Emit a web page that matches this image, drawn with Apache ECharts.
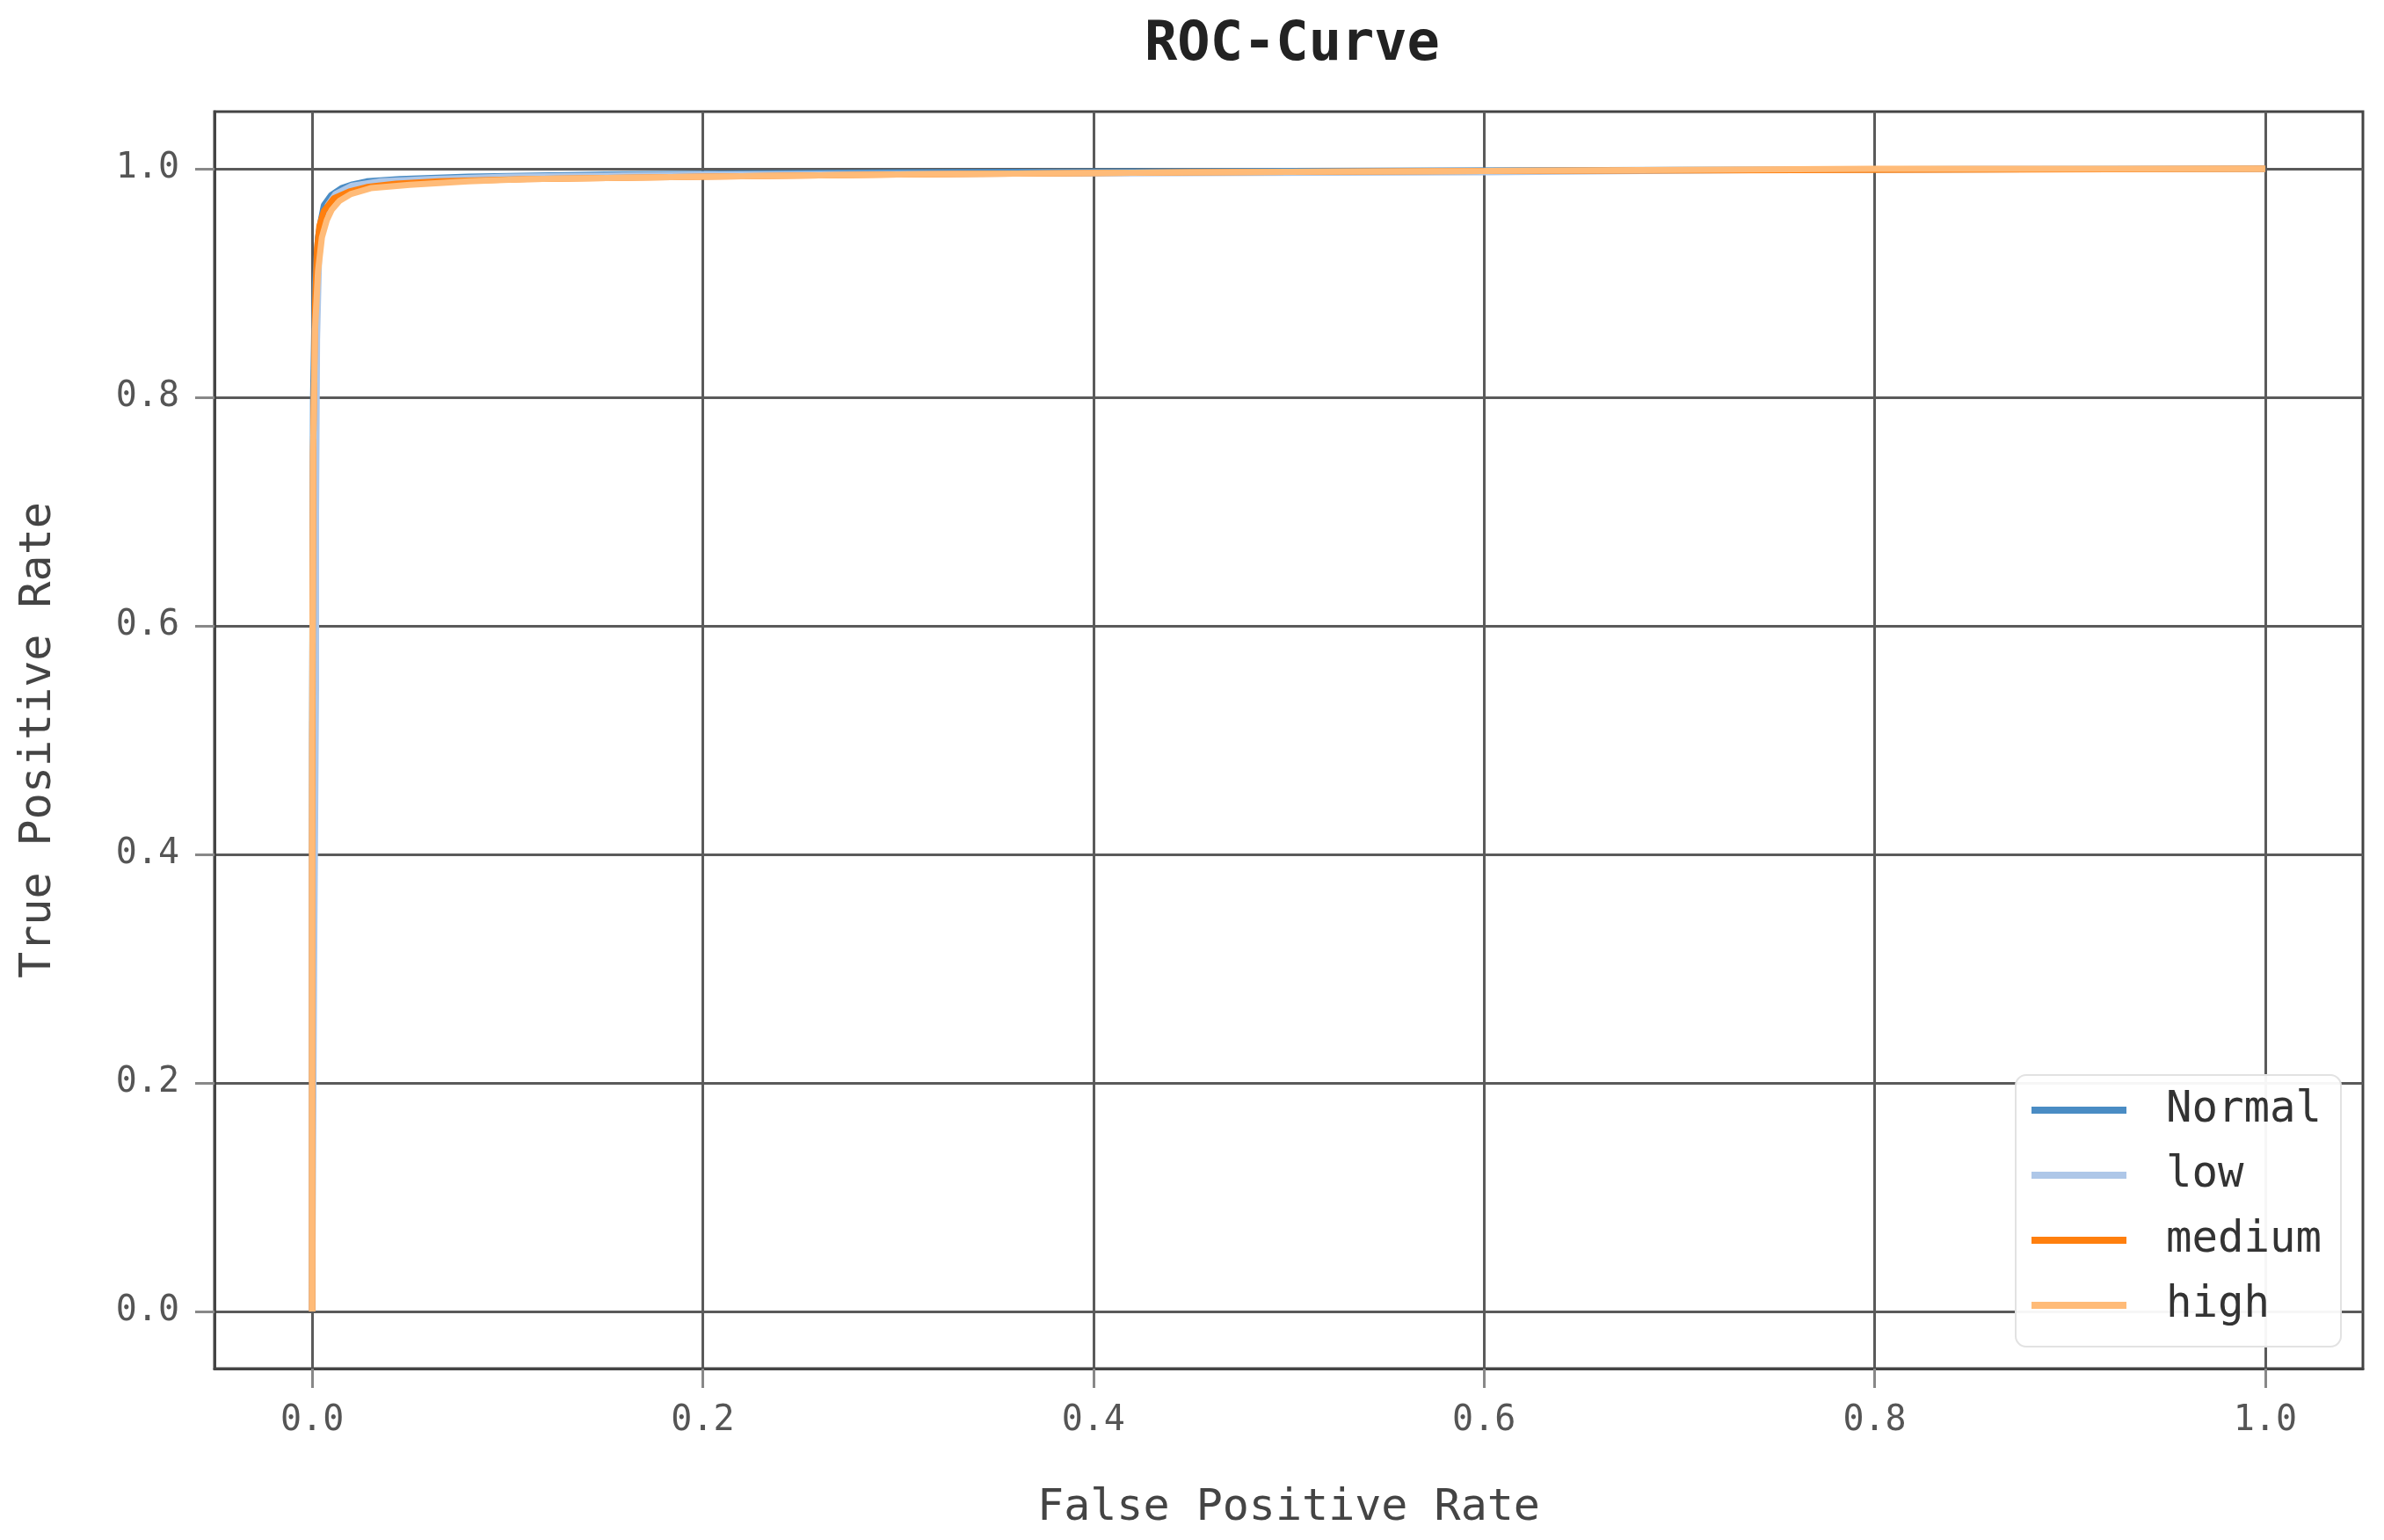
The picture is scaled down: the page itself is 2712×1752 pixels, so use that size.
<!DOCTYPE html>
<html>
<head>
<meta charset="utf-8">
<script src="https://cdn.jsdelivr.net/npm/echarts@6/dist/echarts.min.js"></script>
<style>
html,body{margin:0;padding:0;background:#fff;}
#chart{width:2712px;height:1752px;}
</style>
</head>
<body>
<div id="chart"></div>
<script>
const seriesNames = ['Normal', 'low', 'medium', 'high'];
const seriesColors = ['#4a8cc4', '#aec7e8', '#ff7f0e', '#ffbb78'];
const tickValues = [0, 0.2, 0.4, 0.6, 0.8, 1.0];

const normalFpr = [0, 0, 0.0005, 0.0015, 0.003, 0.0045, 0.006, 0.0098, 0.015, 0.02, 0.028, 0.045, 0.08, 0.15, 0.3, 0.5, 0.7, 1.0];
const normalTpr = [0, 0.5, 0.8, 0.9, 0.94, 0.955, 0.968, 0.977, 0.983, 0.986, 0.989, 0.991, 0.993, 0.995, 0.997, 0.998, 0.999, 1.0];

const lowFpr = [0, 0.001, 0.002, 0.002, 0.0025, 0.0035, 0.005, 0.008, 0.012, 0.02, 0.035, 0.06, 0.1, 0.2, 0.4, 0.6, 0.75, 0.85, 1.0];
const lowTpr = [0, 0.3, 0.55, 0.7, 0.85, 0.92, 0.95, 0.968, 0.978, 0.985, 0.989, 0.991, 0.993, 0.995, 0.996, 0.997, 0.999, 1.0, 1.0];

const mediumFpr = [0, 0, 0.0005, 0.0015, 0.0025, 0.0037, 0.006, 0.011, 0.019, 0.028, 0.043, 0.065, 0.11, 0.2, 0.3, 0.45, 0.6, 0.8, 1.0];
const mediumTpr = [0, 0.4, 0.75, 0.88, 0.93, 0.95, 0.963, 0.974, 0.98, 0.984, 0.987, 0.989, 0.991, 0.993, 0.995, 0.997, 0.998, 0.999, 1.0];

const highFpr = [0, 0, 0.0005, 0.0015, 0.003, 0.005, 0.0075, 0.01, 0.014, 0.02, 0.03, 0.05, 0.08, 0.11, 0.2, 0.3, 0.45, 0.6, 0.8, 1.0];
const highTpr = [0, 0.5, 0.75, 0.86, 0.91, 0.94, 0.955, 0.964, 0.972, 0.978, 0.983, 0.986, 0.989, 0.991, 0.993, 0.995, 0.997, 0.998, 1.0, 1.0];

const fprs = [normalFpr, lowFpr, mediumFpr, highFpr];
const tprs = [normalTpr, lowTpr, mediumTpr, highTpr];

const FONT = '"DejaVu Sans Mono", "Liberation Mono", monospace';

const chart = echarts.init(document.getElementById('chart'), null, {renderer: 'canvas'});

const series = seriesNames.map((name, i) => ({
  name: name,
  type: 'line',
  showSymbol: false,
  symbol: 'none',
  smooth: false,
  data: fprs[i].map((x, j) => [x, tprs[i][j]]),
  lineStyle: {color: seriesColors[i], width: 7},
  itemStyle: {color: seriesColors[i]},
  z: 3 + i,
  animation: false
}));

const axisCommon = {
  type: 'value',
  min: -0.05,
  max: 1.05,
  axisLine: {show: true, onZero: false, lineStyle: {color: '#444', width: 3}},
  axisTick: {show: true, length: 22, lineStyle: {color: '#888', width: 3}, customValues: tickValues},
  axisLabel: {
    customValues: tickValues,
    fontFamily: FONT, fontSize: 40, color: '#555', margin: 40,
    formatter: v => v.toFixed(1)
  },
  splitLine: {show: true, lineStyle: {color: '#5a5a5a', width: 3}},
  nameLocation: 'middle',
  nameTextStyle: {fontFamily: FONT, fontSize: 50, color: '#444'}
};

chart.setOption({
  backgroundColor: '#fff',
  animation: false,
  title: {
    text: 'ROC-Curve',
    left: 1297,
    top: 16,
    textStyle: {fontFamily: FONT, fontSize: 62, fontWeight: 'bold', color: '#222'}
  },
  grid: {
    left: 244, right: 24, top: 127, bottom: 195,
    show: true, borderColor: '#444', borderWidth: 3, backgroundColor: 'transparent'
  },
  legend: {
    orient: 'vertical',
    right: 49,
    bottom: 220,
    data: seriesNames,
    icon: 'rect',
    itemWidth: 108,
    itemHeight: 8,
    itemGap: 24,
    padding: [15, 22, 22, 18],
    backgroundColor: 'rgba(255,255,255,0.95)',
    borderColor: '#e2e2e2',
    borderWidth: 2,
    borderRadius: 12,
    textStyle: {fontFamily: FONT, fontSize: 49, color: '#333', lineHeight: 50, padding: [0, 0, 0, 40]}
  },
  xAxis: Object.assign({}, axisCommon, {name: 'False Positive Rate', nameGap: 134}),
  yAxis: Object.assign({}, axisCommon, {name: 'True Positive Rate', nameGap: 175}),
  series: series
});
</script>
</body>
</html>
